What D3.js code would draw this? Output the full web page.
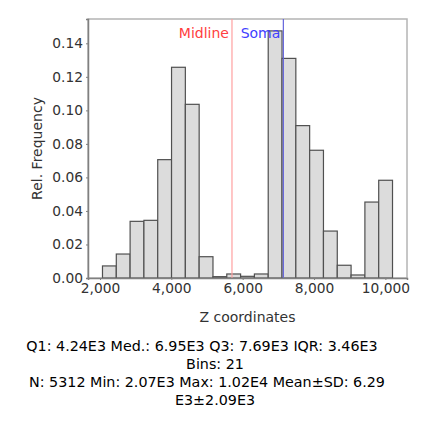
<!DOCTYPE html>
<html>
<head>
<meta charset="utf-8">
<script src="https://cdn.jsdelivr.net/npm/d3@7"></script>
<style>
  body { margin: 0; background: #fff; }
  svg { display: block; font-family: "DejaVu Sans", sans-serif; }
</style>
</head>
<body>
<script>
// histogram of Z coordinates, 21 bins between min and max
const binMin = 2070;
const binMax = 10200;
const relFreq = [0.0072, 0.0143, 0.0338, 0.0344, 0.0706, 0.1257, 0.1036, 0.0127,
                 0.0008, 0.0024, 0.0010, 0.0024, 0.1474, 0.1310, 0.0909, 0.0762,
                 0.0280, 0.0076, 0.0018, 0.0453, 0.0583];
const xTicks = [2000, 4000, 6000, 8000, 10000];
const yTicks = [0, 0.02, 0.04, 0.06, 0.08, 0.10, 0.12, 0.14];
const markers = [{ name: 'Midline', value: 5700, color: '#ffa0a0', text: '#ff4040' },
                 { name: 'Soma', value: 7140, color: '#6464dc', text: '#4040ff' }];
const statLines = ['Q1: 4.24E3 Med.: 6.95E3 Q3: 7.69E3 IQR: 3.46E3',
                   'Bins: 21',
                   'N: 5312 Min: 2.07E3 Max: 1.02E4 Mean\u00b1SD: 6.29',
                   'E3\u00b12.09E3'];

const W = 430, H = 430;
const M = { left: 88, right: 407, top: 19, bottom: 278 };

const SVG = d3.select('body').append('svg')
              .attr('width', W).attr('height', H);

const xScale = d3.scaleLinear().domain([1664, 10606]).range([M.left, M.right]);
const yScale = d3.scaleLinear().domain([0, 0.1545]).range([M.bottom, M.top]);

const binW = (binMax - binMin) / relFreq.length;

// frame
SVG.append('rect')
   .attr('x', M.left).attr('y', M.top)
   .attr('width', M.right - M.left).attr('height', M.bottom - M.top)
   .attr('fill', 'none').attr('stroke', '#b4b4b4').attr('stroke-width', 1.5);

// bars
SVG.selectAll('rect.bar')
   .data(relFreq)
   .enter().append('rect')
   .attr('class', 'bar')
   .attr('x', (d, i) => xScale(binMin + i * binW))
   .attr('y', d => yScale(d))
   .attr('width', (d, i) => xScale(binMin + (i + 1) * binW) - xScale(binMin + i * binW))
   .attr('height', d => M.bottom - yScale(d))
   .attr('fill', '#dcdcdc')
   .attr('stroke', '#505050')
   .attr('stroke-width', 1.2);

// marker lines
markers.forEach(m => {
  SVG.append('line')
     .attr('x1', xScale(m.value)).attr('x2', xScale(m.value))
     .attr('y1', M.top).attr('y2', M.bottom)
     .attr('stroke', m.color).attr('stroke-width', 1.2);
  SVG.append('text')
     .attr('x', xScale(m.value) - 3).attr('y', 38)
     .attr('text-anchor', 'end')
     .attr('font-size', 14)
     .attr('fill', m.text)
     .text(m.name);
});

// axes
const xAxis = d3.axisBottom(xScale).tickValues(xTicks).tickFormat(d3.format(',')).tickSize(2).tickPadding(3);
const yAxis = d3.axisLeft(yScale).tickValues(yTicks).tickFormat(d3.format('.2f')).tickSize(2).tickPadding(3);

const gx = SVG.append('g')
   .attr('transform', `translate(0, ${M.bottom})`)
   .call(xAxis);
const gy = SVG.append('g')
   .attr('transform', `translate(${M.left}, 0)`)
   .call(yAxis);

[gx, gy].forEach(g => {
  g.select('.domain').attr('stroke', '#808080').attr('stroke-width', 1.5);
  g.selectAll('.tick line').attr('stroke', '#808080');
  g.selectAll('.tick text').attr('font-size', 13.8).attr('fill', '#333')
   .attr('font-family', '"DejaVu Sans", sans-serif');
});

// axis titles
SVG.append('text')
   .attr('x', (M.left + M.right) / 2).attr('y', 322)
   .attr('text-anchor', 'middle').attr('font-size', 14).attr('fill', '#333')
   .text('Z coordinates');
SVG.append('text')
   .attr('transform', `translate(42, ${(M.top + M.bottom) / 2}) rotate(-90)`)
   .attr('text-anchor', 'middle').attr('font-size', 14).attr('fill', '#333')
   .text('Rel. Frequency');

// stats text
const statX = [202, 215, 207, 215];
SVG.selectAll('text.stat')
   .data(statLines)
   .enter().append('text')
   .attr('class', 'stat')
   .attr('x', (d, i) => statX[i])
   .attr('y', (d, i) => 351 + i * 18)
   .attr('text-anchor', 'middle')
   .attr('font-size', 14.3)
   .attr('fill', '#000')
   .text(d => d);
</script>
</body>
</html>
